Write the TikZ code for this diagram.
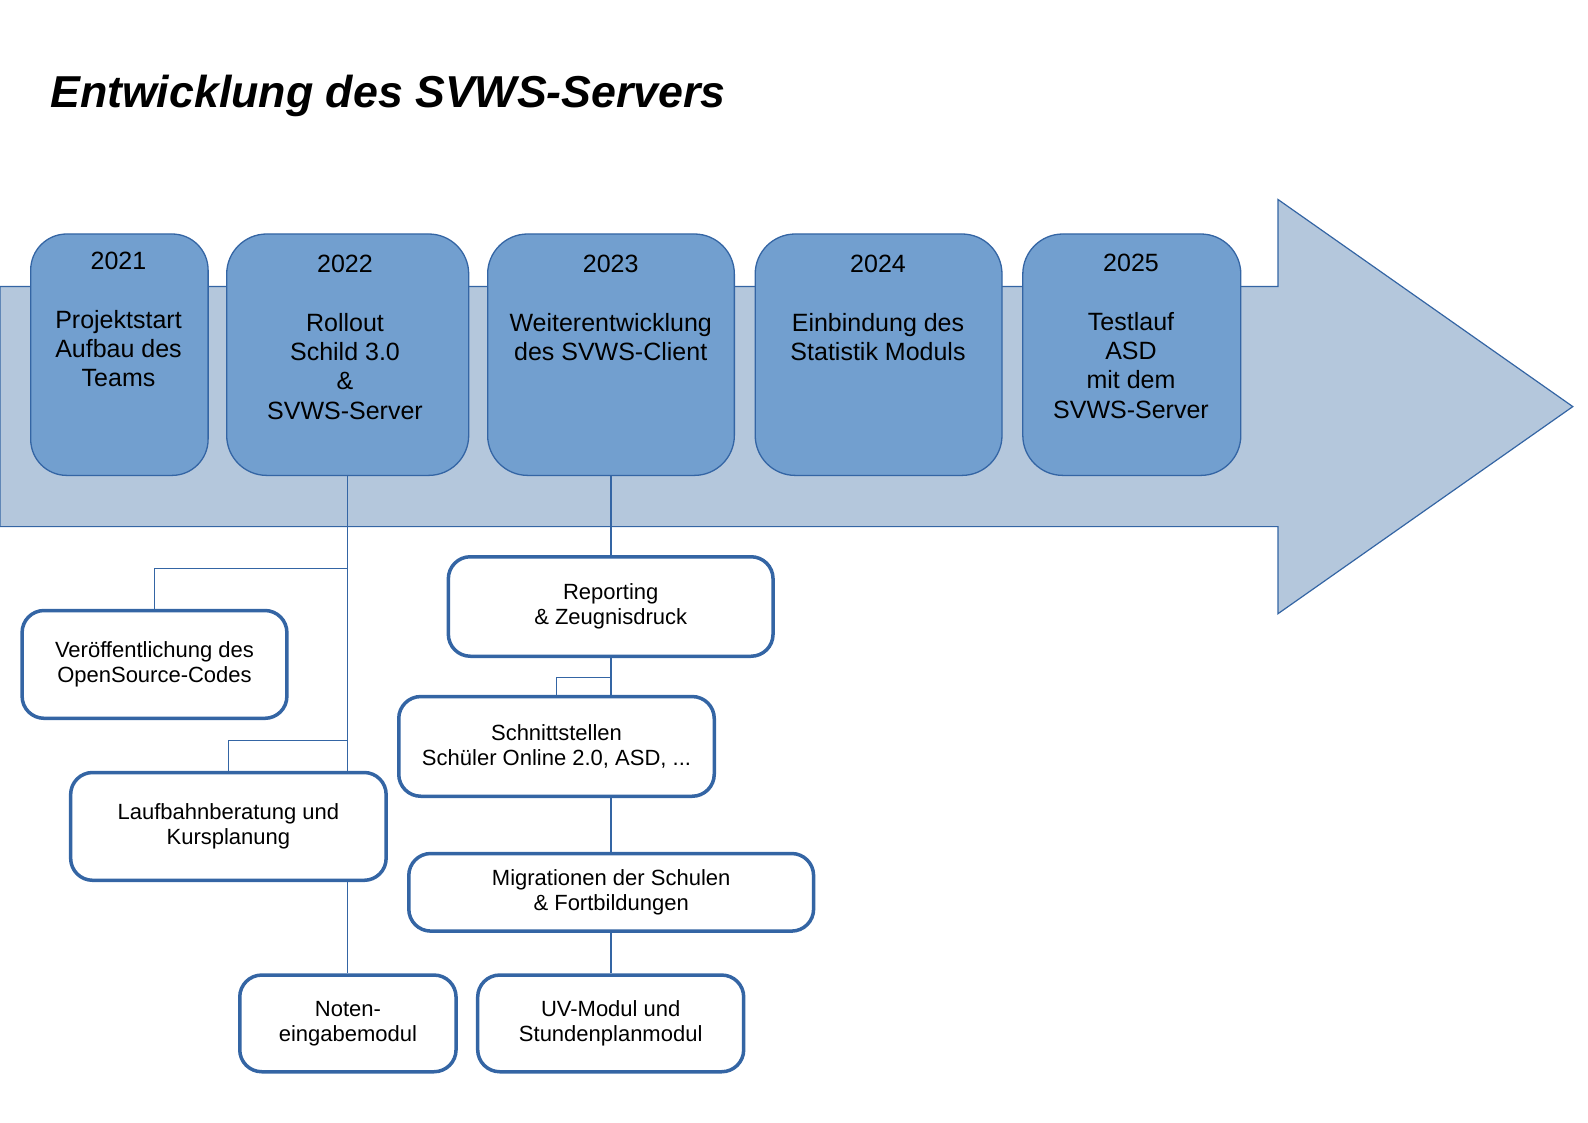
\documentclass[tikz,border=0pt]{standalone}
\usepackage{fontspec}
\setmainfont{Liberation Sans}
\definecolor{rand}{HTML}{3465A4}
\definecolor{kasten}{HTML}{729FCF}
\definecolor{pfeilblau}{HTML}{B4C7DC}
\pgfdeclarelayer{pfeil}
\pgfdeclarelayer{linien}
\pgfsetlayers{pfeil,linien,main}
\begin{document}
\begin{tikzpicture}[x=1pt,y=-1pt,line join=round]
	\tikzstyle{jahr}=[draw=rand,fill=kasten,line width=1.3pt,rounded corners=40pt,inner sep=0pt,minimum height=241.4pt];
	\tikzstyle{jtext}=[align=center,inner sep=0pt,anchor=north,font=\fontsize{25}{29.3}\selectfont];
	\tikzstyle{modul}=[draw=rand,fill=white,line width=3.5pt,rounded corners=22pt,align=center,inner sep=0pt,font=\fontsize{22}{25.3}\selectfont];
	\tikzstyle{linie}=[draw=rand,line width=1.3pt];
	\useasboundingbox (0,0) rectangle (1588,1123);
	%% title
	\node[anchor=base west,inner sep=0pt,font=\fontsize{44.7}{50}\selectfont\bfseries\itshape] (titel) at (50,108) {Entwicklung des SVWS-Servers};
	%% arrow
	\begin{pgfonlayer}{pfeil}
		\draw[draw=rand,fill=pfeilblau,line width=1.2pt] (0,286.6) -- (1278,286.6) -- (1278,199.5) -- (1572.8,406.6)
			-- (1278,613.7) -- (1278,526.6) -- (0,526.6) -- cycle;
	\end{pgfonlayer}
	%% years
	\node[jahr,minimum width=177.4pt,rounded corners=36pt] (j2021) at (119.4,354.7) {};
	\node[jahr,minimum width=242pt]   (j2022) at (347.7,354.7) {};
	\node[jahr,minimum width=246.7pt] (j2023) at (611,354.7) {};
	\node[jahr,minimum width=246.8pt] (j2024) at (878.6,354.7) {};
	\node[jahr,minimum width=218pt]   (j2025) at (1131.8,354.7) {};
	\node[jtext] (t2021) at (118.5,252) {2021\\[29.3pt]Projektstart\\Aufbau des\\Teams};
	\node[jtext] (t2022) at (345,255) {2022\\[29.3pt]Rollout\\Schild 3.0\\\&\\SVWS-Server};
	\node[jtext] (t2023) at (610.7,255) {2023\\[29.3pt]Weiterentwicklung\\des SVWS-Client};
	\node[jtext] (t2024) at (878,255) {2024\\[29.3pt]Einbindung des\\Statistik Moduls};
	\node[jtext] (t2025) at (1131,254) {2025\\[29.3pt]Testlauf\\ASD\\mit dem\\SVWS-Server};
	%% modules
	\node[modul,minimum width=264.8pt,minimum height=107.8pt] (veroeff)   at (154.5,664.4)  {Veröffentlichung des\\OpenSource-Codes};
	\node[modul,minimum width=315.5pt,minimum height=107.8pt] (laufbahn)  at (228.4,826.4)  {Laufbahnberatung und\\Kursplanung};
	\node[modul,minimum width=216.3pt,minimum height=96.7pt]  (noten)     at (347.9,1023.4) {Noten-\\eingabemodul};
	\node[modul,minimum width=324.7pt,minimum height=99.5pt]  (reporting) at (610.7,606.5)  {Reporting\\\& Zeugnisdruck};
	\node[modul,minimum width=315.5pt,minimum height=99.7pt]  (schnitt)   at (556.5,746.4)  {Schnittstellen\\Schüler Online 2.0, ASD, ...};
	\node[modul,minimum width=404.8pt,minimum height=77.6pt]  (migration) at (611.2,892.3)  {Migrationen der Schulen\\\& Fortbildungen};
	\node[modul,minimum width=266pt,minimum height=96.7pt]    (uv)        at (610.7,1023.4) {UV-Modul und\\Stundenplanmodul};
	%% connectors
	\coordinate (k1) at (347.7,568.3);
	\coordinate (k2) at (347.7,740.3);
	\coordinate (k3) at (611,677.5);
	\begin{pgfonlayer}{linien}
		\draw[linie] (j2022.south) -- (j2022.south |- noten.north);
		\draw[linie] (veroeff.north) |- (k1);
		\draw[linie] (laufbahn.north) |- (k2);
		\draw[linie] (j2023.south) -- (j2023.south |- uv.north);
		\draw[linie] (schnitt.north) |- (k3);
	\end{pgfonlayer}
\end{tikzpicture}
\end{document}
